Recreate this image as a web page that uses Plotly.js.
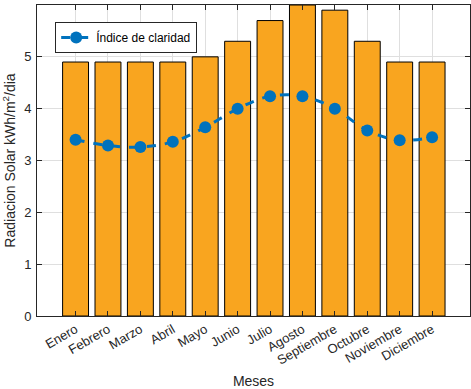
<!DOCTYPE html>
<html>
<head>
<meta charset="utf-8">
<script src="https://cdn.plot.ly/plotly-3.0.1.min.js"></script>
<style>html,body{margin:0;padding:0;background:#fff;}#chart{width:471px;height:389px;}</style>
</head>
<body>
<div id="chart"></div>
<script>
const meses = ["Enero","Febrero","Marzo","Abril","Mayo","Junio","Julio","Agosto","Septiembre","Octubre","Noviembre","Diciembre"];
const radiacion = [4.9, 4.9, 4.9, 4.9, 5.0, 5.3, 5.7, 6.0, 5.9, 5.3, 4.9, 4.9];
const claridad = [3.40, 3.29, 3.26, 3.36, 3.64, 4.00, 4.24, 4.24, 4.00, 3.58, 3.39, 3.45];
const yTicks = [0, 1, 2, 3, 4, 5, 6];

const xIdx = meses.map((m, i) => i + 1);
const fam = "Liberation Sans, Arial, sans-serif";

const traces = [
  {
    type: "bar", x: xIdx, y: radiacion, width: 0.8,
    marker: {color: "#F9A51F", line: {color: "#000000", width: 1}},
    showlegend: false, hoverinfo: "skip"
  },
  {
    type: "scatter", mode: "lines+markers", x: xIdx, y: claridad,
    name: "Índice de claridad",
    line: {color: "#0072BD", width: 3, dash: "dash", shape: "spline"},
    marker: {color: "#0072BD", size: 12}
  }
];

const layout = {
  width: 471, height: 389,
  margin: {l: 37, r: 1, t: 5, b: 73},
  paper_bgcolor: "#fff", plot_bgcolor: "#fff",
  font: {family: fam, size: 13, color: "#262626"},
  bargap: 0.2,
  xaxis: {
    range: [-0.19, 13.17], tickvals: xIdx, ticktext: meses, tickangle: -30,
    ticks: "inside", ticklen: 5, tickcolor: "#262626",
    showgrid: true, gridcolor: "#dfdfdf", gridwidth: 1,
    showline: true, linecolor: "#262626", linewidth: 1, mirror: "ticks",
    zeroline: false, automargin: false,
    tickfont: {family: fam, size: 13, color: "#262626"},
    title: {text: "Meses", font: {family: fam, size: 14, color: "#262626"}, standoff: 12}
  },
  yaxis: {
    range: [0, 6], tickvals: yTicks,
    ticks: "inside", ticklen: 5, tickcolor: "#262626",
    showgrid: true, gridcolor: "#dfdfdf", gridwidth: 1,
    showline: true, linecolor: "#262626", linewidth: 1, mirror: "ticks",
    zeroline: false, automargin: false,
    ticklabelstandoff: 2,
    tickfont: {family: fam, size: 13, color: "#262626"},
    title: {text: "Radiacion Solar kWh/m<sup>2</sup>/dia", font: {family: fam, size: 14, color: "#262626"}, standoff: 8}
  },
  legend: {
    x: 0.042, y: 0.945, xanchor: "left", yanchor: "top",
    bgcolor: "#ffffff", bordercolor: "#262626", borderwidth: 1,
    font: {family: fam, size: 12, color: "#000"}
  }
};

Plotly.newPlot("chart", traces, layout, {displayModeBar: false, staticPlot: true});
</script>
</body>
</html>
